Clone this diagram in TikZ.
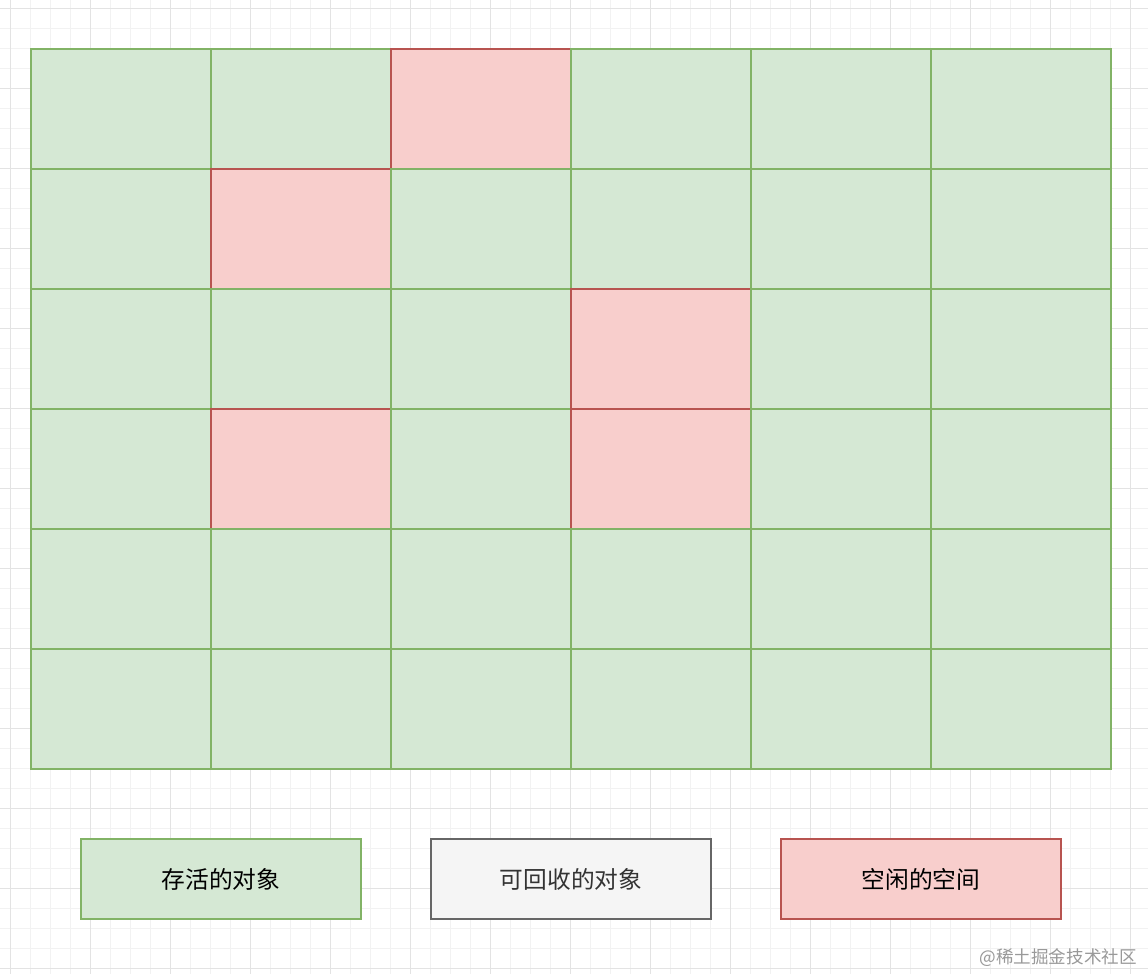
\documentclass[tikz,border=0pt]{standalone}
\usepackage{fontspec}
\setmainfont{Noto Sans CJK SC}
\usepackage{tikz}
\definecolor{livefill}{HTML}{D5E8D4}
\definecolor{livedraw}{HTML}{82B366}
\definecolor{freefill}{HTML}{F8CECC}
\definecolor{freedraw}{HTML}{B85450}
\definecolor{deadfill}{HTML}{F5F5F5}
\definecolor{deaddraw}{HTML}{666666}
\tikzset{
  minorline/.style={draw=black!5, line width=0.55pt},
  majorline/.style={draw=black!11, line width=0.55pt},
  livecell/.style={draw=livedraw, fill=livefill, line width=1.1pt, minimum width=3.6cm, minimum height=2.4cm, inner sep=0pt, outer sep=0pt, anchor=north west},
  freecell/.style={livecell, draw=freedraw, fill=freefill},
  legend/.style={line width=1.1pt, minimum width=5.6cm, minimum height=1.6cm, inner sep=0pt, align=center, font=\fontsize{13.5}{16}\selectfont},
  mark note/.style={text=black!40, anchor=east, font=\fontsize{10}{12}\selectfont}
}
\begin{document}
\begin{tikzpicture}[x=0.02cm, y=-0.02cm]
    \useasboundingbox (0,0) rectangle (1148,974);
    \fill[white] (0,0) rectangle (1148,974);
    % Background grid
    \foreach \x in {10,30,...,1140} \draw[minorline] (\x,0) -- (\x,974);
    \foreach \y in {8,28,...,970} \draw[minorline] (0,\y) -- (1148,\y);
    \foreach \x in {10,90,...,1140} \draw[majorline] (\x,0) -- (\x,974);
    \foreach \y in {8,88,...,970} \draw[majorline] (0,\y) -- (1148,\y);

    % Heap cells
    \foreach \row [count=\r from 0] in {{live,live,free,live,live,live},{live,free,live,live,live,live},{live,live,live,free,live,live},{live,free,live,free,live,live},{live,live,live,live,live,live},{live,live,live,live,live,live}}
      \foreach \k [count=\c from 0] in \row
        \node[\k cell] (cell\r\c) at (31+180*\c, 49+120*\r) {};

    % Legend
    \node[legend, draw=livedraw, fill=livefill] (alive) at (221,879) {存活的对象};
    \node[legend, draw=deaddraw, fill=deadfill, text=black!80] (garbage) at (571,879) {可回收的对象};
    \node[legend, draw=freedraw, fill=freefill] (empty) at (921,879) {空闲的空间};

    \node[mark note] (wmark) at (1143,958) {@稀土掘金技术社区};
\end{tikzpicture}
\end{document}
